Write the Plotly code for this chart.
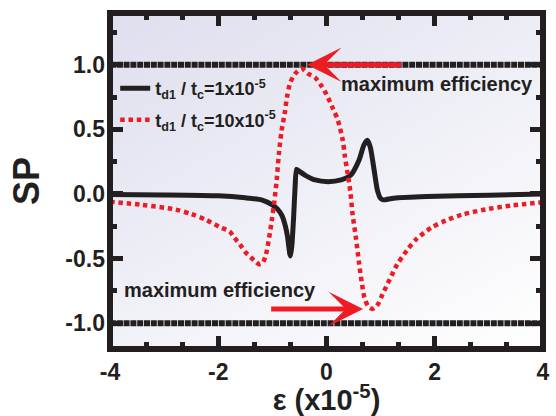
import plotly.graph_objects as go

# Spin polarization SP versus detuning epsilon (in units of 1e-5)
eps_short = [-4.0, -3.0, -2.0, -1.5, -1.2, -1.0, -0.9, -0.82, -0.76, -0.72, -0.68, -0.665,
             -0.64, -0.61, -0.58, -0.555, -0.52, -0.4, -0.21, 0.03, 0.27, 0.45, 0.6, 0.69,
             0.755, 0.81, 0.88, 0.94, 1.0, 1.05, 1.24, 1.85, 3.0, 4.0]
sp_short = [-0.005, -0.008, -0.015, -0.03, -0.046, -0.085, -0.12, -0.17, -0.25, -0.33, -0.46, -0.48,
            -0.40, -0.2, 0.055, 0.19, 0.18, 0.146, 0.108, 0.095, 0.108, 0.146, 0.26, 0.377,
            0.415, 0.36, 0.185, 0.03, -0.035, -0.046, -0.033, -0.02, -0.01, 0.0]

eps_long = [-4.0, -3.4, -2.8, -2.5, -2.23, -1.95, -1.79, -1.7, -1.6, -1.5, -1.4, -1.32, -1.24,
            -1.18, -1.12, -1.06, -1.01, -0.97, -0.92, -0.88, -0.83, -0.77, -0.73, -0.67, -0.58,
            -0.46, -0.34, -0.21, -0.1, 0.0, 0.12, 0.21, 0.3, 0.34, 0.39, 0.44, 0.48, 0.54, 0.6,
            0.65, 0.7, 0.77, 0.85, 0.92, 0.97, 1.03, 1.1, 1.17, 1.3, 1.48, 1.66, 1.94, 2.21,
            2.51, 2.94, 3.42, 4.0]
sp_long = [-0.06, -0.085, -0.12, -0.155, -0.2, -0.26, -0.29, -0.34, -0.39, -0.45, -0.49, -0.52, -0.545,
           -0.535, -0.47, -0.34, -0.2, -0.08, 0.11, 0.31, 0.49, 0.63, 0.75, 0.86, 0.93,
           0.97, 0.93, 0.9, 0.84, 0.77, 0.66, 0.57, 0.415, 0.29, 0.16, 0.02, -0.15, -0.33, -0.53,
           -0.68, -0.8, -0.87, -0.89, -0.87, -0.84, -0.78, -0.72, -0.66, -0.55, -0.44, -0.35, -0.26, -0.205,
           -0.16, -0.12, -0.09, -0.064]

# Limits of full polarization
limit_eps = [-4.0, 4.0]
sp_upper = [1.0, 1.0]
sp_lower = [-1.0, -1.0]

# Background wash (corner values of the plotting area)
bg_eps = [-4.0, 4.0]
bg_sp = [-1.2, 1.4]
bg_level = [[0.6, 1.0], [0.0, 0.45]]

x_ticks = [-4, -2, 0, 2, 4]
x_labels = ["-4", "-2", "0", "2", "4"]
y_ticks = [-1.0, -0.5, 0.0, 0.5, 1.0]
y_labels = ["-1.0", "-0.5", "0.0", "0.5", "1.0"]

INK = "#231f20"
RED = "#ed1c24"
FONT = "Liberation Sans, Arial, sans-serif"

fig = go.Figure()

fig.add_trace(go.Heatmap(x=bg_eps, y=bg_sp, z=bg_level, zsmooth="best",
                         colorscale=[[0, "#dedeee"], [1, "#ffffff"]],
                         showscale=False, hoverinfo="skip"))

for ys in (sp_upper, sp_lower):
    fig.add_trace(go.Scatter(x=limit_eps, y=ys, mode="lines", showlegend=False,
                             line=dict(color=INK, width=6, dash="6px,0.8px")))

fig.add_trace(go.Scatter(
    x=eps_short, y=sp_short, mode="lines", legendgroup="a",
    name="t<sub>d1</sub> / t<sub>c</sub>=1x10<sup>-5</sup>",
    line=dict(color=INK, width=5, shape="spline", smoothing=0.6)))

fig.add_trace(go.Scatter(
    x=eps_long, y=sp_long, mode="lines", legendgroup="b",
    name="t<sub>d1</sub> / t<sub>c</sub>=10x10<sup>-5</sup>",
    line=dict(color=RED, width=4.5, dash="4.5px,3.8px", shape="spline", smoothing=0.8)))

# Arrows pointing to the extremes
fig.add_annotation(x=-0.36, y=1.0, ax=1.41, ay=1.0, xref="x", yref="y", axref="x", ayref="y",
                   text="", showarrow=True, arrowhead=3, arrowsize=1.15, arrowwidth=5,
                   arrowcolor=RED, standoff=0)
fig.add_annotation(x=0.675, y=-0.89, ax=-1.05, ay=-0.89, xref="x", yref="y", axref="x", ayref="y",
                   text="", showarrow=True, arrowhead=3, arrowsize=1.15, arrowwidth=5,
                   arrowcolor=RED, standoff=0)

fig.add_annotation(x=0.225, y=0.854, xref="x", yref="y", xanchor="left", yanchor="middle",
                   text="maximum efficiency", showarrow=False,
                   font=dict(family=FONT, size=20, color=INK, weight="bold"))
fig.add_annotation(x=-3.78, y=-0.74, xref="x", yref="y", xanchor="left", yanchor="middle",
                   text="maximum efficiency", showarrow=False,
                   font=dict(family=FONT, size=20, color=INK, weight="bold"))

# Frame around the plotting area
fig.add_shape(type="rect", xref="paper", yref="paper", x0=0, x1=1, y0=0, y1=1,
              line=dict(color=INK, width=6), layer="above")

tick_font = dict(family=FONT, size=23, color=INK, weight="bold")
fig.update_xaxes(range=[-4, 4], tickvals=x_ticks, ticktext=x_labels,
                 ticks="inside", ticklen=13, tickwidth=5, tickcolor=INK, mirror="ticks",
                 showline=False, showgrid=False, zeroline=False, tickfont=tick_font,
                 ticklabeloverflow="allow", ticklabelstandoff=7,
                 minor=dict(dtick=2/3, tick0=-4, ticks="inside", ticklen=7, tickwidth=5,
                            tickcolor=INK, showgrid=False),
                 title=dict(text="ε (x10<sup>-5</sup>)", standoff=4,
                            font=dict(family=FONT, size=29, color=INK, weight="bold")))
fig.update_yaxes(range=[-1.2, 1.4], tickvals=y_ticks, ticktext=y_labels,
                 ticks="inside", ticklen=13, tickwidth=5, tickcolor=INK, mirror="ticks",
                 showline=False, showgrid=False, zeroline=False, tickfont=tick_font,
                 ticklabelstandoff=4,
                 minor=dict(dtick=0.25, tick0=0, ticks="inside", ticklen=7, tickwidth=5,
                            tickcolor=INK, showgrid=False),
                 title=dict(text="SP", standoff=14,
                            font=dict(family=FONT, size=36, color=INK, weight="bold")))

fig.update_layout(
    width=556, height=416,
    margin=dict(l=109.7, r=6.3, t=12.5, b=65.5),
    paper_bgcolor="white", plot_bgcolor="white",
    legend=dict(x=0.012, y=0.83, xanchor="left", yanchor="top", bgcolor="rgba(0,0,0,0)",
                tracegroupgap=5, font=dict(family=FONT, size=18, color=INK, weight="bold")),
)

fig.write_html("out.html")
